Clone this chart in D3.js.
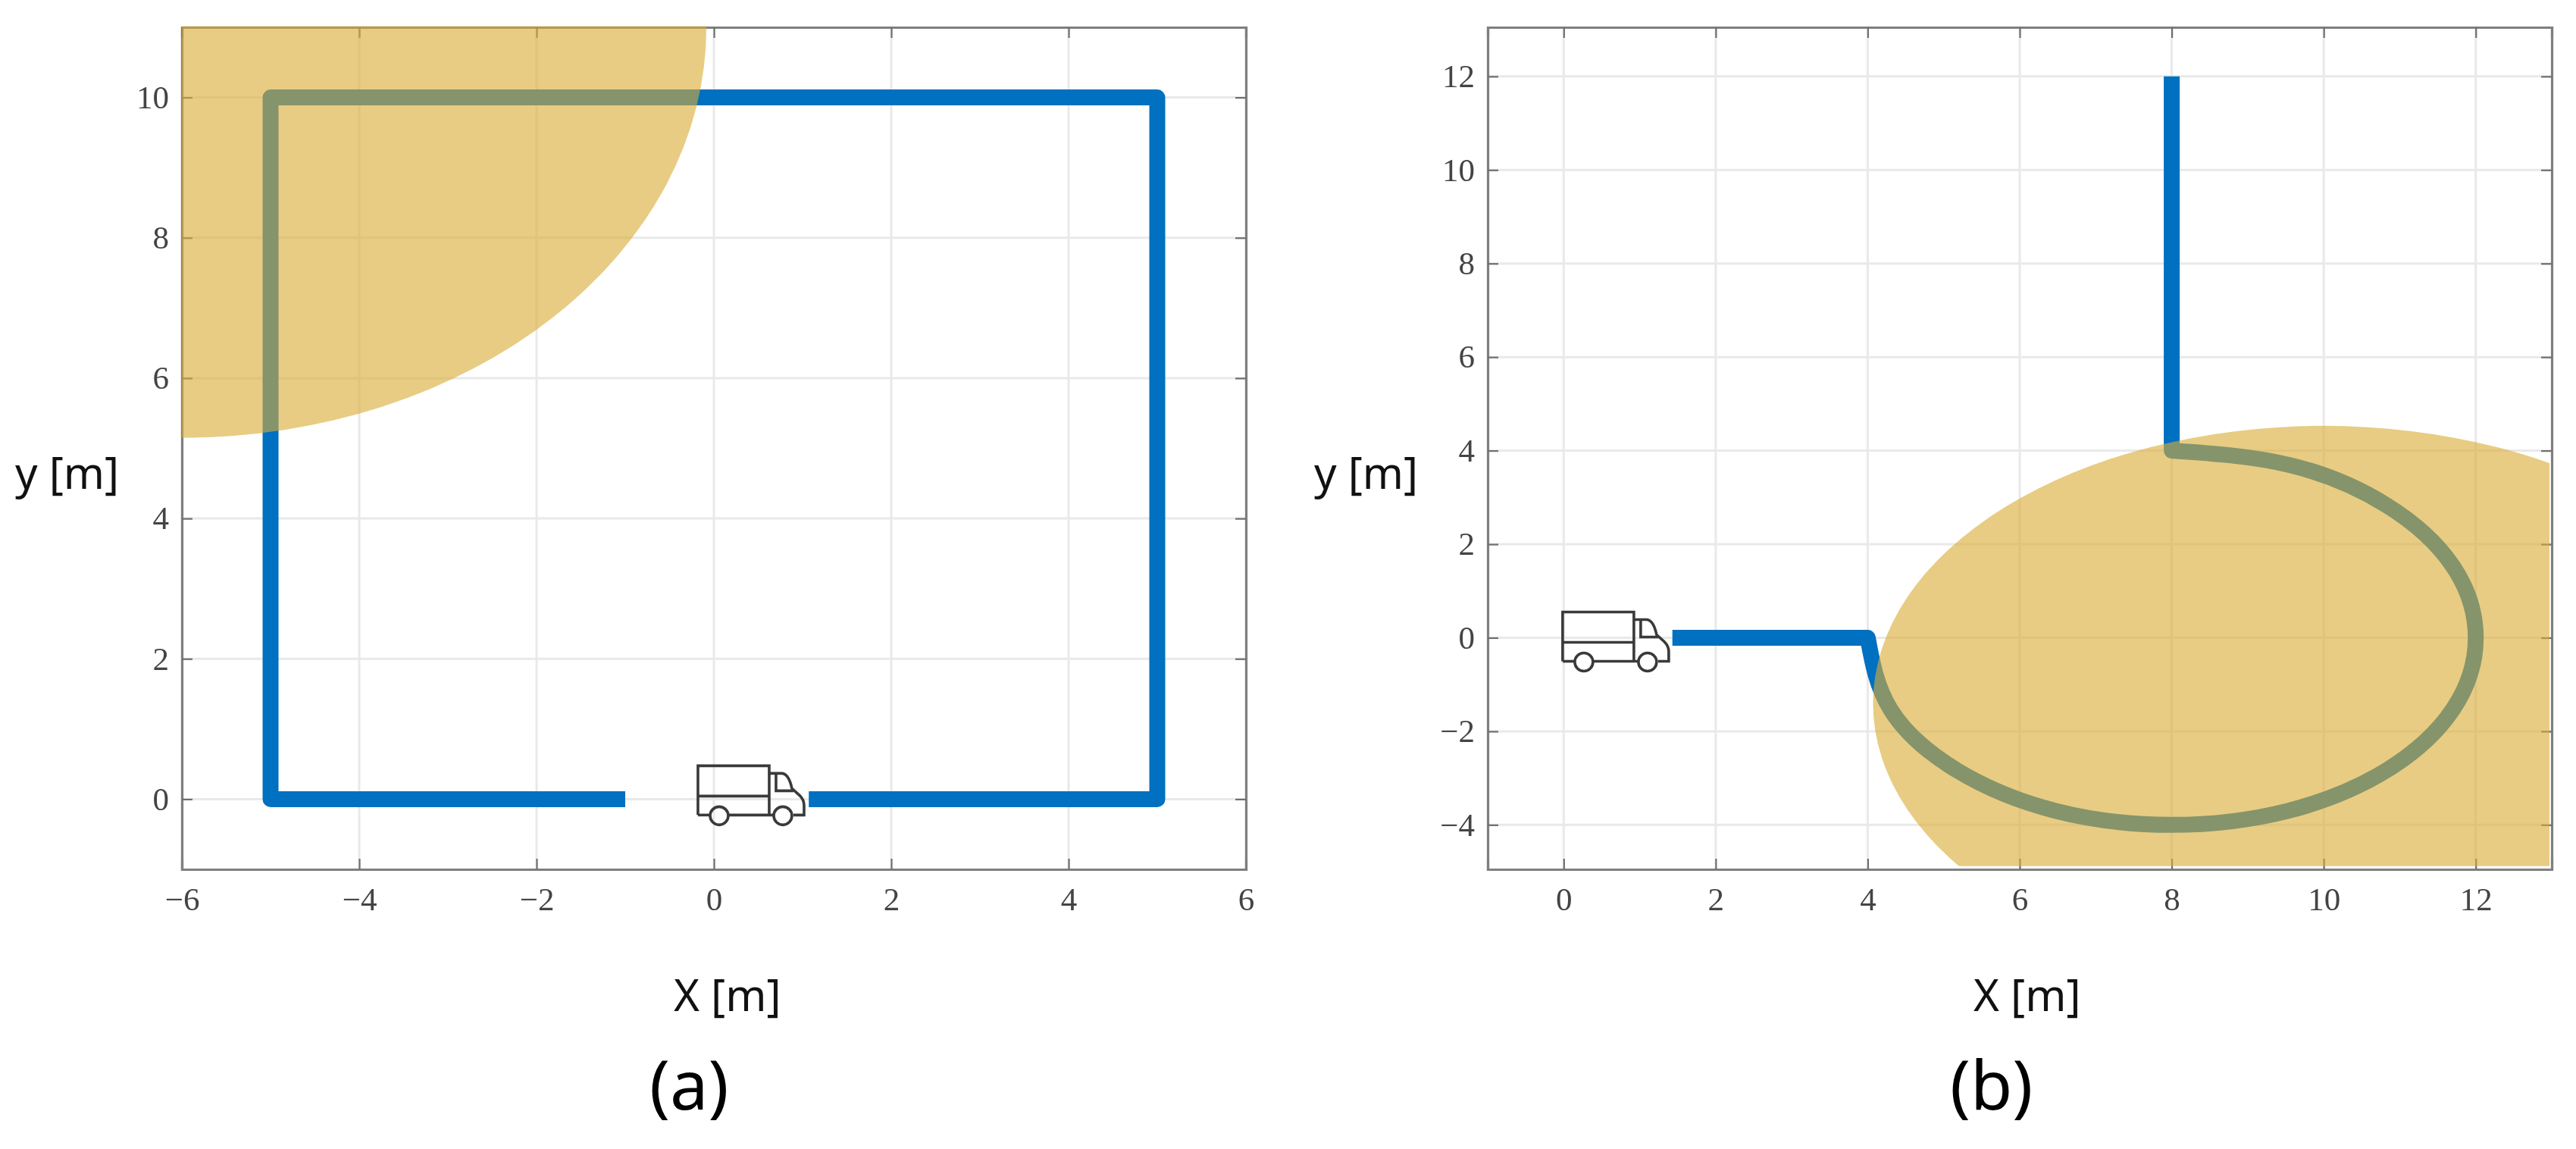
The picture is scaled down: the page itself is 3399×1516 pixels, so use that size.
<!DOCTYPE html>
<html><head><meta charset="utf-8">
<script src="https://cdn.jsdelivr.net/npm/d3@7"></script>
<style>
html,body{margin:0;padding:0;background:#fff}
svg{display:block;filter:blur(0.6px)}
.tick text{font-family:"Liberation Serif",serif;font-size:43px;fill:#444}
.lab{font-family:"Noto Sans",sans-serif;font-size:58px;fill:#111}
.cap{font-family:"Noto Sans",sans-serif;font-size:90px;fill:#000}
</style></head><body>
<script>
// Panel (a)
const xTicksA = [-6,-4,-2,0,2,4,6];
const yTicksA = [0,2,4,6,8,10];
const pathXA = [-1,-5,-5,5,5,1.07];
const pathYA = [0,0,10,10,0,0];
const zoneA = {cx:-6, cy:11, rx:5.915, ry:5.85};
const truckA = [-0.18,0.476];
// Panel (b)
const xTicksB = [0,2,4,6,8,10,12];
const yTicksB = [-4,-2,0,2,4,6,8,10,12];
const leadXB = [1.43,4];
const leadYB = [0,0];
const arcXB = [4,4.3,5.17,6.47,8,9.53,10.83,11.7,12,11.7,10.83,9.53,8];
const arcYB = [0,-1.53,-2.83,-3.7,-4,-3.7,-2.83,-1.53,0,1.53,2.83,3.7,4];
const tailXB = [8,8];
const tailYB = [4,12];
const zoneB = {cx:10, cy:-1.4, rx:5.93, ry:5.93};
const truckB = [-0.014,0.55];

const BLUE="#0070C0", ZONE="#DAAB35";
const svg=d3.select("body").append("svg").attr("width",3399).attr("height",1516);

const truckShapes=[
 "M0,65V0H94V65","M0,40H94","M0,65H15","M41,65H100",
 "M94,10H111Q120,11 124,30L134,39Q140,45 140,52V65H126","M103,11V33H126"
];
function truck(g,x,y){
  const t=g.append("g").attr("transform",`translate(${x},${y})`)
    .attr("fill","none").attr("stroke","#3a3a3a").attr("stroke-width",3.6);
  truckShapes.forEach(d=>t.append("path").attr("d",d));
  t.selectAll("circle").data([28,112]).join("circle")
    .attr("cx",d=>d).attr("cy",66).attr("r",12);
}
function panel(id,x,y,xT,yT,zone,clipX,clipY){
  const g=svg.append("g");
  const [x0,x1]=x.range(), [y0,y1]=y.range();
  const grid=g.append("g").attr("stroke","#e9e9e9").attr("stroke-width",3);
  grid.selectAll(".gx").data(xT).join("line").attr("x1",d=>x(d)).attr("x2",d=>x(d)).attr("y1",y0).attr("y2",y1);
  grid.selectAll(".gy").data(yT).join("line").attr("y1",d=>y(d)).attr("y2",d=>y(d)).attr("x1",x0).attr("x2",x1);
  const mark=g.append("g");
  const fmt=d3.format("d");
  const style=a=>{a.selectAll("path").attr("stroke","#7f7f7f").attr("stroke-width",3.2);
    a.selectAll("line").attr("stroke","#6f6f6f").attr("stroke-width",2.2);};
  g.append("g").attr("transform",`translate(0,${y0})`).call(d3.axisBottom(x).tickValues(xT).tickFormat(fmt).tickSize(-14).tickPadding(23)).call(style);
  g.append("g").attr("transform",`translate(${x0},0)`).call(d3.axisLeft(y).tickValues(yT).tickFormat(fmt).tickSize(-14).tickPadding(17)).call(style);
  g.append("g").attr("transform",`translate(0,${y1})`).call(d3.axisTop(x).tickValues(xT).tickFormat("").tickSize(-14)).call(style);
  g.append("g").attr("transform",`translate(${x1},0)`).call(d3.axisRight(y).tickValues(yT).tickFormat("").tickSize(-14)).call(style);
  g.selectAll(".tick text").attr("font-family",null).attr("font-size",null);
  const cid="clip"+id;
  svg.append("clipPath").attr("id",cid).append("rect")
    .attr("x",x0).attr("y",y1-1.5).attr("width",x(clipX)-x0).attr("height",y(clipY)-y1+1.5);
  g.append("ellipse").attr("clip-path",`url(#${cid})`)
    .attr("cx",x(zone.cx)).attr("cy",y(zone.cy))
    .attr("rx",x(zone.cx+zone.rx)-x(zone.cx)).attr("ry",y(zone.cy-zone.ry)-y(zone.cy))
    .attr("fill",ZONE).attr("fill-opacity",0.61);
  return {g,mark};
}
function drawPath(mark,d){
  mark.append("path").attr("d",d).attr("fill","none").attr("stroke",BLUE)
    .attr("stroke-width",21).attr("stroke-linejoin","round");
}

// (a)
const xA=d3.scaleLinear().domain([-6,6]).range([240,1644]);
const yA=d3.scaleLinear().domain([-1,11]).range([1147,36]);
const pa=panel("A",xA,yA,xTicksA,yTicksA,zoneA,6,-1);
const lineA=d3.line().x(i=>xA(pathXA[i])).y(i=>yA(pathYA[i]));
drawPath(pa.mark,lineA(d3.range(pathXA.length)));
truck(pa.g,xA(truckA[0]),yA(truckA[1]));

// (b)
const xB=d3.scaleLinear().domain([-1,13]).range([1963,3367]);
const yB=d3.scaleLinear().domain([-4.95,13.05]).range([1147,36]);
const pb=panel("B",xB,yB,xTicksB,yTicksB,zoneB,12.97,-4.88);
const seg=(X,Y,c)=>d3.line().x(i=>xB(X[i])).y(i=>yB(Y[i])).curve(c)(d3.range(X.length));
const dB=seg(leadXB,leadYB,d3.curveLinear)
  +seg(arcXB,arcYB,d3.curveNatural).replace(/^M/,"L")
  +seg(tailXB,tailYB,d3.curveLinear).replace(/^M/,"L");
drawPath(pb.mark,dB);
truck(pb.g,xB(truckB[0]),yB(truckB[1]));

// labels
const labels=[["y [m]",20,645,"lab"],["X [m]",889,1334,"lab"],["(a)",857,1464,"cap"],
              ["y [m]",1734,645,"lab"],["X [m]",2604,1334,"lab"],["(b)",2573,1464,"cap"]];
svg.selectAll(".t").data(labels).join("text").attr("class",d=>d[3])
  .attr("x",d=>d[1]).attr("y",d=>d[2]).text(d=>d[0]);
</script>
</body></html>
